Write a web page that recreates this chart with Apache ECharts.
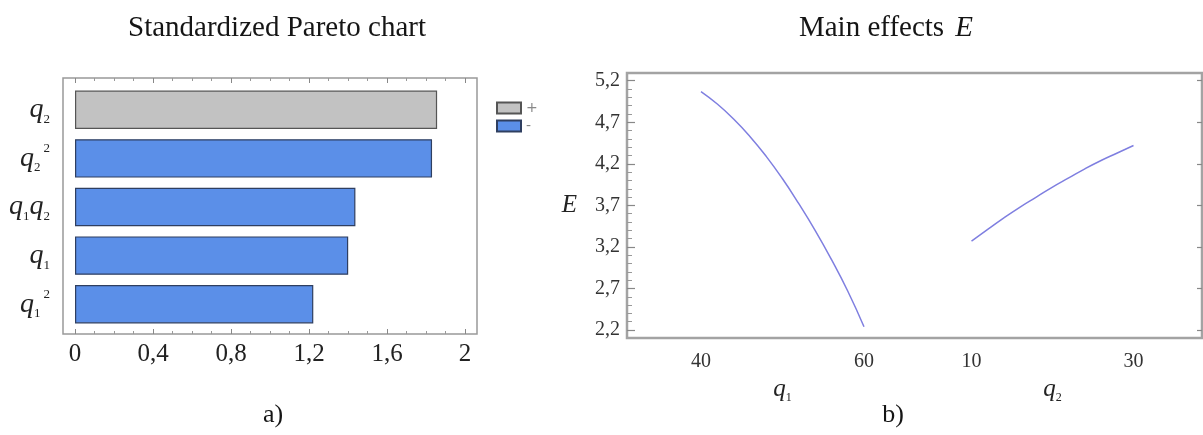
<!DOCTYPE html>
<html><head><meta charset="utf-8">
<script src="https://cdn.jsdelivr.net/npm/echarts@6/dist/echarts.min.js"></script>
<style>html,body{margin:0;padding:0;background:#fff}#c{width:1203px;height:435px}</style>
</head><body><div id="c"></div>
<script>
// ---- data ----
const paretoTerms = ['q2', 'q2²', 'q1q2', 'q1', 'q1²'];
const paretoValues = [1.857, 1.831, 1.438, 1.401, 1.222];
const paretoSign = ['+', '-', '-', '-', '-'];
const paretoTicks = [0, 0.4, 0.8, 1.2, 1.6, 2];

const q1Levels = [40, 42, 44, 46, 48, 50, 52, 54, 56, 58, 60];
const q1Effect = [5.07, 4.92, 4.74, 4.53, 4.29, 4.02, 3.72, 3.40, 3.05, 2.67, 2.24];
const q2Levels = [10, 12, 14, 16, 18, 20, 22, 24, 26, 28, 30];
const q2Effect = [3.27, 3.41, 3.55, 3.68, 3.80, 3.92, 4.03, 4.14, 4.24, 4.33, 4.42];

const effectTicks = [2.2, 2.7, 3.2, 3.7, 4.2, 4.7, 5.2];
const effectMinorTicks = [2.3, 2.4, 2.5, 2.6, 2.8, 2.9, 3.0, 3.1, 3.3, 3.4, 3.5, 3.6,
  3.8, 3.9, 4.0, 4.1, 4.3, 4.4, 4.5, 4.6, 4.8, 4.9, 5.0, 5.1];

// ---- helpers ----
const SERIF = 'Liberation Serif';
const comma = v => String(+v.toFixed(1)).replace('.', ',');
const termLabel = t => t.replace(/q(\d)/g, '{q|q}{s|$1}').replace('²', '{p|2}');
const termRich = {
  q: {fontFamily: SERIF, fontStyle: 'italic', fontSize: 28, lineHeight: 32, color: '#222'},
  s: {fontFamily: SERIF, fontSize: 13, lineHeight: 12, verticalAlign: 'bottom', color: '#222'},
  p: {fontFamily: SERIF, fontSize: 13, lineHeight: 22, verticalAlign: 'top', color: '#222', padding: [0, 0, 0, 3]}
};
const nameRich = {
  q: {fontFamily: SERIF, fontStyle: 'italic', fontSize: 25, lineHeight: 28, color: '#222'},
  s: {fontFamily: SERIF, fontSize: 12, lineHeight: 11, verticalAlign: 'bottom', color: '#222'}
};
const yMin = 2.104, yMax = 5.293;

const plus = paretoValues.map((v, i) => paretoSign[i] === '+' ? v : null);
const minus = paretoValues.map((v, i) => paretoSign[i] === '-' ? v : null);

const chart = echarts.init(document.getElementById('c'), null, {renderer: 'canvas'});
chart.setOption({
  backgroundColor: '#fff',
  animation: false,
  textStyle: {fontFamily: SERIF},
  title: [
    {text: 'Standardized Pareto chart', left: 272, top: 9, textAlign: 'center',
     textStyle: {fontFamily: SERIF, fontSize: 29, fontWeight: 'normal', color: '#151515'}},
    {text: 'Main effects {e|E}', left: 881, top: 9, textAlign: 'center',
     textStyle: {fontFamily: SERIF, fontSize: 29, fontWeight: 'normal', color: '#151515',
       rich: {e: {fontFamily: SERIF, fontStyle: 'italic', fontSize: 29, color: '#151515', padding: [0, 0, 0, 4]}}}},
    {text: 'a)', left: 268, top: 397, textAlign: 'center',
     textStyle: {fontFamily: SERIF, fontSize: 26, fontWeight: 'normal', color: '#151515'}},
    {text: 'b)', left: 888, top: 397, textAlign: 'center',
     textStyle: {fontFamily: SERIF, fontSize: 26, fontWeight: 'normal', color: '#151515'}}
  ],
  legend: {
    data: ['+', '-'], orient: 'vertical', left: 491, top: 96, icon: 'rect',
    itemWidth: 24, itemHeight: 11, itemGap: 4,
    textStyle: {color: '#888', fontSize: 14, fontFamily: 'DejaVu Sans'}
  },
  grid: [
    {left: 63, top: 78, width: 414, height: 256, show: true, borderColor: '#999', borderWidth: 1.5, backgroundColor: 'transparent'},
    {left: 75, top: 78, width: 390, height: 256},
    {left: 75, top: 85.5, width: 390, height: 243},
    {left: 627, top: 73, width: 575, height: 265, show: true, borderColor: '#a3a3a3', borderWidth: 2.5, backgroundColor: 'transparent'},
    {left: 701, top: 73, width: 163, height: 265},
    {left: 971.5, top: 73, width: 162, height: 265}
  ],
  xAxis: [
    {gridIndex: 0, type: 'value', min: 0, max: 1, show: false},
    {gridIndex: 1, type: 'value', position: 'bottom', min: 0, max: 2, interval: 0.4,
     axisLine: {show: false}, splitLine: {show: false},
     axisTick: {show: true, inside: true, length: 5, lineStyle: {color: '#888'}},
     minorTick: {show: true, splitNumber: 4, length: 3, lineStyle: {color: '#999'}},
     axisLabel: {margin: 8, fontFamily: SERIF, fontSize: 25, color: '#222', formatter: v => comma(v)}},
    {gridIndex: 1, type: 'value', position: 'top', min: 0, max: 2, interval: 0.4,
     axisLine: {show: false}, splitLine: {show: false}, axisLabel: {show: false},
     axisTick: {show: true, inside: true, length: 5, lineStyle: {color: '#888'}},
     minorTick: {show: true, splitNumber: 4, length: 3, lineStyle: {color: '#999'}}},
    {gridIndex: 2, type: 'value', min: 0, max: 2, show: false},
    {gridIndex: 3, type: 'value', min: 0, max: 1, show: false},
    {gridIndex: 4, type: 'value', min: 40, max: 60, interval: 20,
     axisLine: {show: false}, axisTick: {show: false}, splitLine: {show: false},
     axisLabel: {margin: 14, fontFamily: SERIF, fontSize: 20, color: '#333'},
     name: '{q|q}{s|1}', nameLocation: 'middle', nameGap: 36, nameTextStyle: {rich: nameRich}},
    {gridIndex: 5, type: 'value', min: 10, max: 30, interval: 20,
     axisLine: {show: false}, axisTick: {show: false}, splitLine: {show: false},
     axisLabel: {margin: 14, fontFamily: SERIF, fontSize: 20, color: '#333'},
     name: '{q|q}{s|2}', nameLocation: 'middle', nameGap: 36, nameTextStyle: {rich: nameRich}}
  ],
  yAxis: [
    {gridIndex: 0, type: 'value', min: 0, max: 1, show: false},
    {gridIndex: 1, type: 'value', min: 0, max: 1, show: false},
    {gridIndex: 2, type: 'category', data: paretoTerms, inverse: true,
     axisLine: {show: false}, axisTick: {show: false},
     axisLabel: {margin: 25, formatter: v => termLabel(v), rich: termRich}},
    {gridIndex: 3, type: 'value', min: yMin, max: yMax, position: 'left',
     axisLine: {show: false}, splitLine: {show: false},
     axisTick: {show: true, inside: true, length: 8, customValues: effectTicks, lineStyle: {color: '#888', width: 1.2}},
     axisLabel: {margin: 7, fontFamily: SERIF, fontSize: 20, color: '#333', customValues: effectTicks, formatter: v => comma(v)},
     name: 'E', nameLocation: 'middle', nameRotate: 0, nameGap: 50,
     nameTextStyle: {fontFamily: SERIF, fontStyle: 'italic', fontSize: 25, color: '#222'}},
    {gridIndex: 3, type: 'value', min: yMin, max: yMax, position: 'left',
     axisLine: {show: false}, splitLine: {show: false}, axisLabel: {show: false},
     axisTick: {show: true, inside: true, length: 5, customValues: effectMinorTicks, lineStyle: {color: '#999'}}},
    {gridIndex: 3, type: 'value', min: yMin, max: yMax, position: 'right',
     axisLine: {show: false}, splitLine: {show: false}, axisLabel: {show: false},
     axisTick: {show: true, inside: true, length: 5, customValues: effectTicks, lineStyle: {color: '#888', width: 1.2}}},
    {gridIndex: 4, type: 'value', min: yMin, max: yMax, show: false},
    {gridIndex: 5, type: 'value', min: yMin, max: yMax, show: false}
  ],
  series: [
    {name: '+', type: 'bar', xAxisIndex: 3, yAxisIndex: 2, data: plus, barCategoryGap: '21%', barGap: '-100%',
     itemStyle: {color: '#c2c2c2', borderColor: '#555', borderWidth: 1.2}},
    {name: '-', type: 'bar', xAxisIndex: 3, yAxisIndex: 2, data: minus, barCategoryGap: '21%', barGap: '-100%',
     itemStyle: {color: '#5b8fe8', borderColor: '#2f3f60', borderWidth: 1.2}},
    {name: 'q1', type: 'line', xAxisIndex: 5, yAxisIndex: 6, smooth: 0.5, showSymbol: false,
     data: q1Levels.map((x, i) => [x, q1Effect[i]]), lineStyle: {color: '#7f7fe0', width: 1.5}},
    {name: 'q2', type: 'line', xAxisIndex: 6, yAxisIndex: 7, smooth: 0.5, showSymbol: false,
     data: q2Levels.map((x, i) => [x, q2Effect[i]]), lineStyle: {color: '#7f7fe0', width: 1.5}}
  ]
});
</script></body></html>
